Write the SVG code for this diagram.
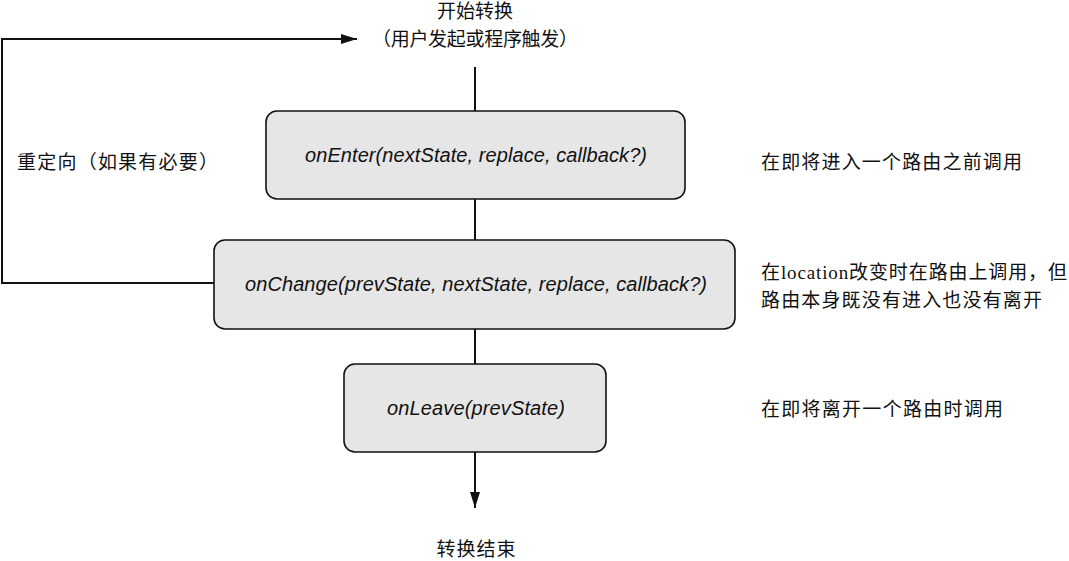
<svg xmlns="http://www.w3.org/2000/svg" width="1069" height="561" viewBox="0 0 1069 561">
<style>
.box{fill:#e6e6e6;stroke:#111;stroke-width:1.6}
.fn{font-family:"Liberation Sans",Arial,sans-serif;font-style:italic;font-size:20px;fill:#111}
.cj{font-family:"Liberation Serif","Noto Sans CJK SC",serif;font-size:19px;fill:#111}
.ln{fill:none;stroke:#111;stroke-width:2}
</style>
<defs>
<marker id="ah" viewBox="0 0 16 10" refX="16" refY="5" markerWidth="16" markerHeight="10" markerUnits="userSpaceOnUse" orient="auto">
<path d="M0,0 L16,5 L0,10 Z" fill="#111"/>
</marker>
</defs>
<g id="connectors">
<path class="ln" d="M214,283 H2 V39 H357" marker-end="url(#ah)"/>
<path class="ln" d="M475,67 V111"/>
<path class="ln" d="M475,199 V240"/>
<path class="ln" d="M475,329 V364"/>
<path class="ln" d="M475,452 V508" marker-end="url(#ah)"/>
</g>
<g id="start">
<text class="cj" x="475" y="18" text-anchor="middle" textLength="76">开始转换</text>
<text class="cj" x="475" y="46" text-anchor="middle" textLength="206">（用户发起或程序触发）</text>
</g>
<g id="redirect">
<text class="cj" x="17" y="169" textLength="201">重定向（如果有必要）</text>
</g>
<g id="onEnter">
<rect class="box" x="266" y="111" width="419" height="88" rx="11"/>
<text class="fn" x="305" y="162" textLength="342">onEnter(nextState, replace, callback?)</text>
</g>
<g id="onChange">
<rect class="box" x="214" y="240" width="521" height="89" rx="11"/>
<text class="fn" x="245" y="291" textLength="462">onChange(prevState, nextState, replace, callback?)</text>
</g>
<g id="onLeave">
<rect class="box" x="344" y="364" width="262" height="88" rx="11"/>
<text class="fn" x="387" y="415" textLength="178">onLeave(prevState)</text>
</g>
<g id="end">
<text class="cj" x="476" y="556" text-anchor="middle" textLength="79">转换结束</text>
</g>
<g id="notes">
<text class="cj" x="761" y="169" textLength="261">在即将进入一个路由之前调用</text>
<text class="cj" x="761" y="279" textLength="306">在location改变时在路由上调用，但</text>
<text class="cj" x="761" y="307" textLength="281">路由本身既没有进入也没有离开</text>
<text class="cj" x="761" y="416" textLength="242">在即将离开一个路由时调用</text>
</g>
</svg>
